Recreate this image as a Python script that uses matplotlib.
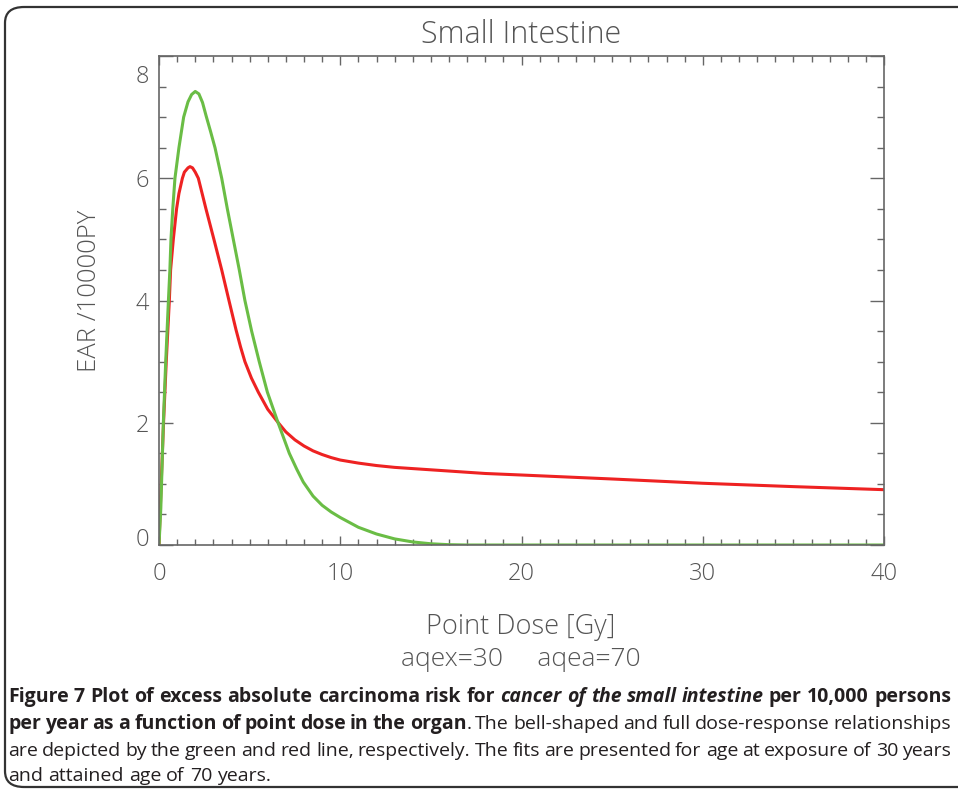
import matplotlib
matplotlib.use('Agg')
import matplotlib.pyplot as plt
from matplotlib.patches import FancyBboxPatch
from matplotlib.ticker import MultipleLocator, FixedLocator
from matplotlib.transforms import offset_copy

plt.rcParams['font.family'] = ['Open Sans', 'DejaVu Sans']

# ---- data ----
green_dose = [0, 0.05, 0.1, 0.24, 0.37, 0.52, 0.6, 0.66, 0.76, 0.88, 1.1, 1.36, 1.6, 1.8, 2.0,
              2.2, 2.4, 2.6, 2.85, 3.09, 3.46, 3.77, 4.10, 4.43, 4.74, 5.11, 5.53, 5.98, 6.57,
              7.19, 7.6, 7.96, 8.5, 9.0, 9.5, 10.0, 11.0, 12.0, 13.0, 14.0, 15.0, 16.0, 17.0,
              20, 25, 30, 35, 40]
green_ear = [0, 0.3, 0.6, 2.0, 3.0, 4.0, 4.5, 5.0, 5.5, 6.0, 6.5, 7.0, 7.25, 7.37, 7.42,
             7.38, 7.24, 7.02, 6.76, 6.5, 6.0, 5.5, 5.0, 4.5, 4.0, 3.5, 3.0, 2.5, 2.0,
             1.5, 1.24, 1.03, 0.8, 0.65, 0.54, 0.45, 0.29, 0.18, 0.10, 0.05, 0.02, 0.005, 0.0,
             0, 0, 0, 0, 0]

red_dose = [0, 0.12, 0.25, 0.4, 0.57, 0.64, 0.79, 0.97, 1.1, 1.29, 1.4, 1.6, 1.71, 1.85, 2.0,
            2.17, 2.59, 3.03, 3.46, 3.86, 4.25, 4.5, 4.74, 5.1, 5.48, 6.0, 6.58, 7.0, 7.5,
            8.0, 8.5, 9.0, 9.5, 10.0, 11, 12, 13, 14, 15, 16, 17, 18, 20, 25, 30, 35, 40]
red_ear = [0, 1.0, 2.0, 3.0, 4.0, 4.5, 5.0, 5.5, 5.75, 6.0, 6.10, 6.17, 6.19, 6.17, 6.10,
           6.0, 5.5, 5.0, 4.5, 4.0, 3.52, 3.24, 3.0, 2.73, 2.5, 2.22, 2.0, 1.85, 1.72,
           1.62, 1.54, 1.48, 1.43, 1.39, 1.34, 1.30, 1.27, 1.25, 1.23, 1.21, 1.19, 1.17,
           1.145, 1.08, 1.01, 0.955, 0.905]

x_ticks = [0, 10, 20, 30, 40]
y_ticks = [0, 2, 4, 6, 8]

W, H = 958, 795
fig = plt.figure(figsize=(W / 100, H / 100), dpi=100)

# page frame
frame = FancyBboxPatch((5 / W, 8 / H), 990 / W, 780 / H,
                       boxstyle='round,pad=0,rounding_size=0.02',
                       transform=fig.transFigure, fill=False,
                       edgecolor='#333333', linewidth=1.6, clip_on=False)
fig.patches.append(frame)

ax = fig.add_axes([159 / W, 1 - 545 / H, 725 / W, 489 / H])
ax.plot(red_dose, red_ear, color='#ee2222', linewidth=2.2)
ax.plot(green_dose, green_ear, color='#6abd45', linewidth=2.2)

ax.set_xlim(0, 40)
ax.set_ylim(0, 8)
ax.xaxis.set_major_locator(FixedLocator(x_ticks))
ax.yaxis.set_major_locator(FixedLocator(y_ticks))
ax.xaxis.set_minor_locator(MultipleLocator(1))
ax.yaxis.set_minor_locator(MultipleLocator(0.5))

grey = '#666666'
for sp in ax.spines.values():
    sp.set_color(grey)
    sp.set_linewidth(1.2)
ax.tick_params(which='both', direction='in', top=True, right=True, color=grey, width=1.0,
               labelcolor='#555555', labelsize=17)
ax.tick_params(axis='x', which='major', length=6.5, pad=12)
ax.tick_params(axis='x', which='minor', length=4)
ax.tick_params(axis='y', which='major', length=10, pad=7)
ax.tick_params(axis='y', which='minor', length=5)
ax.set_xticklabels([str(v) for v in x_ticks], fontweight=300)
ax.set_yticklabels([str(v) for v in y_ticks], fontweight=300)

# IDL nudges the end labels inwards
yt = ax.yaxis.get_major_ticks()
yt[0].label1.set_transform(offset_copy(yt[0].label1.get_transform(), fig, y=8, units='dots'))
yt[-1].label1.set_transform(offset_copy(yt[-1].label1.get_transform(), fig, y=-18, units='dots'))

txt_kw = dict(color='#555555', fontweight=300)
fig.text(521 / W, 1 - 35 / H, 'Small Intestine', ha='center', va='center', fontsize=22, **txt_kw)
fig.text(90 / W, 1 - 291 / H, 'EAR /10000PY', ha='center', va='center', rotation=90,
         fontsize=18.5, **txt_kw)
fig.text(521 / W, 1 - 627 / H, 'Point Dose [Gy]', ha='center', va='center', fontsize=19.5,
         **txt_kw)
fig.text(521 / W, 1 - 660 / H, 'aqex=30     aqea=70', ha='center', va='center', fontsize=19,
         **txt_kw)

# ---- caption (justified) ----
B = dict(family='Open Sans', weight='bold')
BI = dict(family='Open Sans', weight='bold', style='italic')
N = dict(family='Open Sans', weight='normal')
cap_size = 14.0

caption_lines = [
    [('Figure 7 Plot of excess absolute carcinoma risk for ', B),
     ('cancer of the small intestine', BI), (' per 10,000 persons', B)],
    [('per year as a function of point dose in the organ', B),
     ('. The bell-shaped and full dose-response relationships', N)],
    [('are depicted by the green and red line, respectively. The fits are presented '
      'for age at exposure of 30 years', N)],
    [('and attained age of 70 years.', N)],
]
baselines = [702, 729, 756, 781]
x_left, x_right = 8, 951

renderer = fig.canvas.get_renderer()


def words_of(segments):
    words = []
    glue = False
    for text, style in segments:
        parts = text.split(' ')
        for i, p in enumerate(parts):
            if i > 0:
                glue = False
            if p == '':
                continue
            if glue and words:
                words[-1].append((p, style))
            else:
                words.append([(p, style)])
            glue = True
    return words


def width_of(s, style):
    t = fig.text(0, 0, s, fontsize=cap_size, **style)
    w = t.get_window_extent(renderer).width
    t.remove()
    return w


space_w = width_of('a a', N) - width_of('aa', N)
for k, (segs, base) in enumerate(zip(caption_lines, baselines)):
    words = words_of(segs)
    widths = [[width_of(p, st) for p, st in w] for w in words]
    total = sum(sum(w) for w in widths)
    justify = k < len(caption_lines) - 1
    gap = (x_right - x_left - total) / (len(words) - 1) if justify else space_w
    x = x_left
    for w, ws in zip(words, widths):
        for (p, st), pw in zip(w, ws):
            fig.text(x / W, 1 - base / H, p, fontsize=cap_size, va='baseline',
                     color='#231f20', **st)
            x += pw
        x += gap

fig.savefig('out.png', dpi=100)
